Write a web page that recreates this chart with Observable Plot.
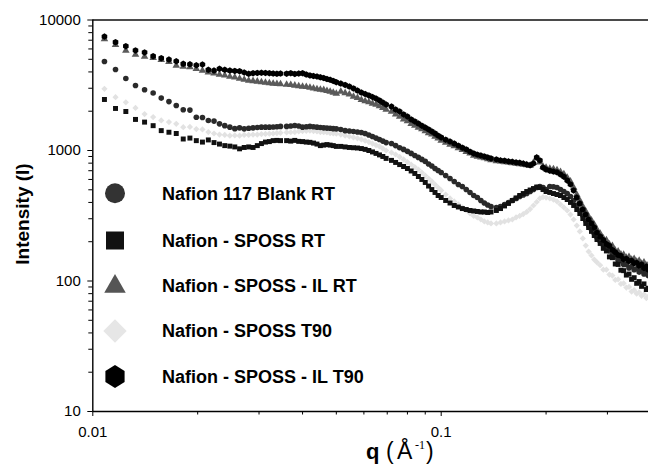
<!DOCTYPE html>
<html><head><meta charset="utf-8">
<script src="https://cdn.jsdelivr.net/npm/d3@7"></script>
<script src="https://cdn.jsdelivr.net/npm/@observablehq/plot@0.6"></script>
<style>
html,body{margin:0;padding:0;background:#fff;}
#wrap{position:relative;width:648px;height:467px;overflow:hidden;font-family:Arial,"Liberation Sans",sans-serif;}
</style></head><body><div id="wrap"></div>
<script>
// scattering vector q (Å^-1)
const q = [0.0108,0.01162,0.01244,0.01326,0.01408,0.0149,0.01572,0.01654,0.01736,0.01818,0.019,0.01982,0.02064,0.02146,0.02228,0.0231,0.02392,0.02474,0.02556,0.02638,0.0272,0.02802,0.02884,0.02966,0.03048,0.0313,0.03212,0.03294,0.03376,0.03458,
0.036,0.037,0.038,0.039,0.040,0.041,0.042,0.043,0.044,0.045,0.046,0.047,0.048,0.049,0.050,
0.0515,0.053,0.0545,0.056,0.0575,0.059,0.0605,0.062,0.0635,0.065,0.0665,0.068,0.0695,
0.072,0.074,0.076,0.078,0.080,0.082,0.084,0.086,0.088,0.090,0.092,0.094,0.096,0.098,0.100,
0.103,0.106,0.109,0.112,0.115,0.118,0.121,0.124,0.127,0.130,0.133,0.136,0.139,
0.144,0.148,0.152,0.156,0.160,0.164,0.168,0.172,0.176,0.180,0.184,0.188,0.192,0.196,0.200,
0.205,0.210,0.215,0.220,0.225,0.230,0.235,0.240,0.245,0.250,0.255,0.260,0.265,0.270,0.275,0.280,
0.286,0.292,0.298,0.304,0.310,0.316,0.322,0.328,0.334,0.340,0.346,0.352,0.358,0.364,0.370,0.376,0.382,0.388,0.393];

const blankRT = [4810,4180,3560,3150,2920,2760,2520,2370,2210,2050,2040,1800,1790,1700,1680,1600,1550,1510,1470,1490,1465,1480,1490,1500,1510,1510,1510,1515,1520,1530,
1530,1540,1555,1540,1510,1520,1530,1520,1510,1500,1490,1485,1480,1470,1465,
1450,1420,1410,1400,1385,1375,1350,1315,1280,1245,1215,1180,1150,
1130,1090,1050,1020,985,950,915,885,855,825,788,760,728,703,678,
643,610,579,549,530,502,477,452,436,414,396,382,372,
366,372,386,400,414,429,444,456,468,485,502,520,530,520,502,
530,528,520,502,485,468,444,414,379,347,318,291,266,248,231,215,
201,189,176,170,158,153,144,143,134,134,126,129,122,124,117,120,113,117,110];

const spossRT = [2460,2100,1990,1730,1650,1550,1420,1380,1350,1225,1245,1190,1160,1205,1150,1120,1090,1080,1065,1030,1055,1065,1055,1090,1130,1160,1170,1190,1195,1190,
1190,1180,1195,1175,1170,1160,1155,1140,1120,1090,1100,1110,1100,1090,1075,
1075,1065,1055,1050,1045,1035,1020,1000,975,950,925,900,870,
840,810,780,754,728,697,667,632,600,569,534,502,477,452,436,
414,396,379,369,359,353,347,344,341,338,338,335,338,
347,359,376,393,414,433,452,468,485,498,511,525,520,502,485,
477,468,460,452,436,421,400,379,353,329,301,276,257,240,223,208,
194,178,170,153,151,135,134,121,120,111,113,103,106,96,99,91,95,86,88];

const spossIlRT = [7150,6460,5840,5440,5250,5130,4960,4780,4480,4400,4350,4230,4100,3980,3910,3820,3760,3690,3630,3560,3500,3440,3410,3380,3350,3320,3290,3260,3240,3230,
3200,3180,3150,3120,3090,3070,3040,2990,2960,2930,2910,2860,2830,2780,2730,
2830,2760,2690,2590,2530,2440,2390,2350,2290,2250,2190,2120,2060,
1990,1890,1820,1730,1680,1600,1550,1500,1460,1410,1360,1330,1280,1240,1190,
1150,1110,1080,1045,1010,975,950,915,900,885,875,860,845,
830,825,816,810,800,795,788,780,774,767,808,870,810,754,741,
728,721,709,685,660,621,579,520,460,414,372,341,312,291,271,248,
231,212,206,191,186,171,169,160,159,151,153,146,148,141,143,136,139,131,133];

const spossT90 = [2970,2560,2340,2120,1900,1805,1700,1650,1600,1510,1515,1460,1450,1385,1350,1325,1315,1300,1305,1300,1315,1315,1325,1325,1335,1340,1345,1350,1360,1365,
1375,1380,1385,1400,1410,1415,1420,1410,1400,1385,1380,1375,1360,1350,1345,
1325,1300,1280,1260,1240,1215,1190,1160,1130,1100,1075,1035,1000,
965,932,892,855,816,780,747,715,678,643,610,579,549,520,494,
460,429,407,386,366,347,329,315,307,296,286,281,276,
276,281,286,291,296,307,315,326,338,356,379,403,429,440,436,
429,421,407,386,366,347,323,296,266,240,212,187,168,157,146,139,
132,122,122,112,110,102,103,95,96,89,90,83,85,80,82,77,79,74,76];

const spossIlT90 = [7470,6760,6300,5840,5640,5280,5100,4980,4830,4620,4580,4500,4560,4150,4100,4230,4150,4100,4070,4050,3960,3870,3910,3930,3940,3930,3910,3890,3870,3890,
3880,3910,3860,3890,3910,3820,3760,3720,3690,3640,3590,3530,3480,3410,3340,
3260,3180,3090,2990,2880,2780,2710,2640,2570,2500,2420,2330,2250,
2170,2060,1990,1890,1820,1730,1670,1610,1550,1500,1450,1400,1350,1300,1260,
1210,1170,1130,1090,1050,1020,980,950,930,915,900,885,870,
855,840,835,825,820,810,805,795,780,770,795,885,840,740,715,
700,690,680,655,630,590,550,494,436,392,353,323,296,276,257,235,
219,206,192,186,173,166,158,156,147,148,142,143,137,138,131,134,126,129,122];

const seriesNames = ["Nafion 117 Blank RT","Nafion - SPOSS RT","Nafion - SPOSS - IL RT","Nafion - SPOSS T90","Nafion - SPOSS - IL T90"];
const seriesValues = [blankRT, spossRT, spossIlRT, spossT90, spossIlT90];
const seriesSymbols = ["circle","square","triangle","diamond2","hexagon"];
const seriesColors = ["#2a2a2a","#111111","#5a5a5a","#e2e2e2","#000000"];
const drawOrder = [3,0,1,2,4];

const majorY = [10,100,1000,10000];
const minorY = [20,30,40,50,60,70,80,90,200,300,400,500,600,700,800,900,2000,3000,4000,5000,6000,7000,8000,9000];
const majorX = [0.01,0.1];
const minorX = [0.02,0.03,0.04,0.05,0.06,0.07,0.08,0.09,0.2,0.3];

const tables = seriesValues.map((vals, k) => vals.map((v, i) => ({q: q[i], I: v, series: seriesNames[k]})));

const chart = Plot.plot({
  width: 648, height: 467,
  marginLeft: 92.3, marginRight: 0, marginTop: 19.5, marginBottom: 56,
  style: {fontFamily: 'Arial, "Liberation Sans", sans-serif', fontSize: "15px", color: "#000", background: "transparent", overflow: "visible"},
  x: {type: "log", domain: [0.01, 0.3936]},
  y: {type: "log", domain: [10, 10000]},
  marks: [
    Plot.ruleY([10000], {stroke: "#4a4a4a", strokeWidth: 2.2}),
    ...drawOrder.map(k => Plot.dot(tables[k], {x: "q", y: "I", symbol: seriesSymbols[k], fill: seriesColors[k], r: 2.8, stroke: "none"})),
    Plot.ruleX([0.01], {stroke: "#000", strokeWidth: 1.4}),
    Plot.ruleY([10], {stroke: "#000", strokeWidth: 1.4}),
    Plot.axisY(majorY, {tickSize: 5, tickPadding: 7, tickFormat: d => String(d), label: null, fontSize: 15}),
    Plot.axisY(minorY, {tickSize: 4, tickFormat: () => "", label: null}),
    Plot.axisX(majorX, {tickSize: 5, tickPadding: 10, tickFormat: d => String(d), label: null, fontSize: 15}),
    Plot.axisX(minorX, {tickSize: 3.5, tickFormat: () => "", label: null})
  ]
});
document.getElementById("wrap").appendChild(chart);

const svg = d3.select(chart);
// legend
const legendRows = [193.3, 240.5, 285.5, 331, 376.5];
const legendShapes = [
  d3.symbol(d3.symbolCircle, Math.PI * 100)(),
  d3.symbol(d3.symbolSquare, 18 * 18)(),
  d3.symbol(d3.symbolTriangle, 200)(),
  d3.symbol(d3.symbolSquare, 16.5 * 16.5)(),
  "M0,-11.5L9.6,-5.6L9.6,5.6L0,11.5L-9.6,5.6L-9.6,-5.6Z"
];
const legendColors = ["#333333","#111111","#555555","#e6e6e6","#000000"];
const lg = svg.append("g").attr("text-anchor", "start");
seriesNames.forEach((name, k) => {
  const g = lg.append("g").attr("transform", `translate(0,${legendRows[k]})`);
  g.append("path").attr("d", legendShapes[k]).attr("fill", legendColors[k])
    .attr("transform", `translate(115,${k === 2 ? 1 : 0})${k === 3 ? " rotate(45)" : ""}`);
  g.append("text").attr("x", 162).attr("y", 6.4).attr("font-size", 18).attr("font-weight", "bold")
    .attr("text-anchor", "start").attr("fill", "#000").text(name);
});
// y title
svg.append("text").attr("transform", "translate(29,214) rotate(-90)").attr("text-anchor", "middle")
  .attr("font-size", 19).attr("font-weight", "bold").attr("fill", "#000").text("Intensity (I)");
// x title
const xt = svg.append("text").attr("y", 459).attr("fill", "#000").attr("text-anchor", "start");
xt.append("tspan").attr("x", 366).attr("font-size", 22).attr("font-weight", "bold").text("q");
xt.append("tspan").attr("x", 386).attr("font-size", 23).text("(");
xt.append("tspan").attr("x", 397).attr("font-size", 23).text("Å");
xt.append("tspan").attr("x", 415).attr("y", 449).attr("font-size", 12).attr("font-family", '"Liberation Serif", serif').text("-1");
xt.append("tspan").attr("x", 426).attr("y", 459).attr("font-size", 23).text(")");
</script>
</body></html>
